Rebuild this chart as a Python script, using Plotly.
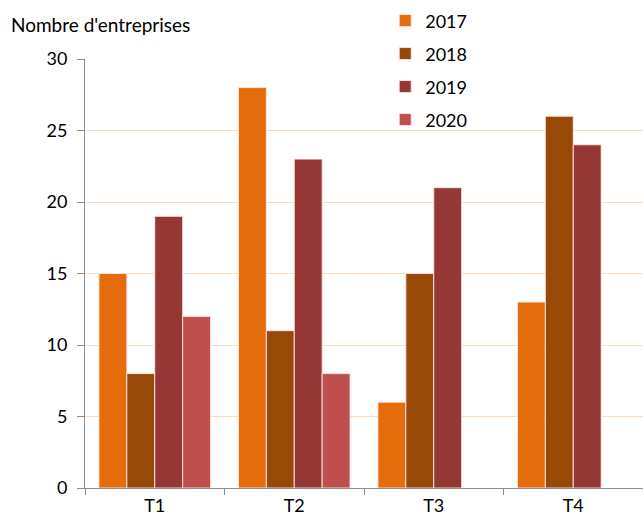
import plotly.graph_objects as go

categories = ["T1", "T2", "T3", "T4"]
years = ["2017", "2018", "2019", "2020"]
v2017 = [15, 28, 6, 13]
v2018 = [8, 11, 15, 26]
v2019 = [19, 23, 21, 24]
v2020 = [12, 8, None, None]
colors = ["#E46C0A", "#984807", "#953735", "#C0504D"]

series = [v2017, v2018, v2019, v2020]

fig = go.Figure()
for name, vals, col in zip(years, series, colors):
    fig.add_trace(go.Bar(
        x=categories, y=vals, name=name, legendgroup=name,
        marker=dict(color=col, line=dict(color="rgba(255,230,230,0.9)", width=1)),
    ))

fig.update_layout(
    width=643, height=515,
    margin=dict(l=85, r=0, t=59, b=27),
    paper_bgcolor="white", plot_bgcolor="white",
    barmode="group", bargap=0.2, bargroupgap=0,
    font=dict(family="Lato, Carlito, sans-serif", size=18, color="#000000"),
    legend=dict(x=0.538, y=1.132, xanchor="left", yanchor="top",
                tracegroupgap=6.6, font=dict(size=18),
                itemwidth=30, bgcolor="rgba(0,0,0,0)"),
    showlegend=True,
)
fig.update_yaxes(range=[0, 30], dtick=5, showgrid=True, gridcolor="#FCDDC2",
                 gridwidth=1, showline=True, linecolor="#8C8C8C", linewidth=1,
                 ticks="outside", ticklen=7, tickcolor="#8C8C8C", zeroline=False,
                 tickfont=dict(size=18), automargin=False, ticklabelstandoff=6)
fig.update_xaxes(showline=True, linecolor="#8C8C8C", linewidth=1,
                 ticks="outside", tickson="boundaries", ticklen=6,
                 tickcolor="#8C8C8C", tickfont=dict(size=18), automargin=False,
                 ticklabelstandoff=1)
fig.add_annotation(text="Nombre d'entreprises", xref="paper", yref="paper",
                   x=-0.137, y=1.081, xanchor="left", yanchor="middle",
                   showarrow=False, font=dict(size=19))

fig.write_html("out.html", config={"displayModeBar": False},
               post_script="document.body.style.margin='0';document.body.style.overflow='hidden';")
